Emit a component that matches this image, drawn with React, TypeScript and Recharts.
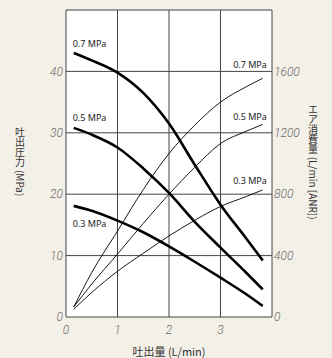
import React from 'react';
import { LineChart, Line, XAxis, YAxis, CartesianGrid, ReferenceDot } from 'recharts';

const flow = [0.15, 0.5, 1, 1.5, 2, 2.5, 3, 3.5, 3.82];
const press07 = [43, 41.8, 39.8, 36.5, 31.5, 24.8, 18.3, 12.8, 9.2];
const press05 = [30.8, 29.7, 27.6, 24.2, 20.2, 15.5, 11.3, 7.2, 4.5];
const press03 = [18.1, 17.3, 15.7, 13.8, 11.5, 9.0, 6.4, 3.7, 1.8];
const air07 = [65, 290, 560, 830, 1065, 1250, 1400, 1500, 1555];
const air05 = [65, 215, 410, 610, 800, 975, 1130, 1210, 1255];
const air03 = [50, 160, 298, 415, 528, 630, 720, 785, 828];

const leftTicks = [0, 10, 20, 30, 40, 50];
const rightTicks = [0, 400, 800, 1200, 1600, 2000];
const xTicks = [0, 1, 2, 3, 4];
const leftLabels = [
  { x: 0.13, y: 44.0, text: '0.7 MPa' },
  { x: 0.13, y: 31.9, text: '0.5 MPa' },
  { x: 0.13, y: 14.7, text: '0.3 MPa' },
];
const rightLabels = [
  { x: 3.9, y: 40.5, text: '0.7 MPa' },
  { x: 3.9, y: 32.1, text: '0.5 MPa' },
  { x: 3.9, y: 21.7, text: '0.3 MPa' },
];

const data = flow.map((q, i) => ({
  q,
  p07: press07[i],
  p05: press05[i],
  p03: press03[i],
  a07: air07[i],
  a05: air05[i],
  a03: air03[i],
}));

const tickStyle = { fontSize: 12, fill: '#6a6a6a', fontStyle: 'italic', fontFamily: 'Roboto', fontWeight: 300 };
const titleFont = '"Noto Sans CJK JP", "Noto Sans", sans-serif';

export default function App() {
  return (
    <div style={{ position: 'absolute', left: 0, top: 0, width: 332, height: 358, background: '#f3f0e8' }}>
      <LineChart width={332} height={358} data={data} margin={{ top: 10, right: 0, bottom: 0, left: 0 }}>
        <CartesianGrid yAxisId="left" fill="#fff" stroke="#444" strokeWidth={1} />
        <XAxis
          dataKey="q"
          type="number"
          domain={[0, 4]}
          ticks={xTicks}
          tickFormatter={(v) => (v === 4 ? '' : String(v))}
          axisLine={false}
          tickLine={false}
          tickSize={0}
          tickMargin={8}
          height={41}
          tick={tickStyle}
          label={{
            content: (p: any) => {
              const vb = p.viewBox;
              return (
                <text x={vb.x + vb.width / 2} y={356} textAnchor="middle" fontSize={11} fill="#333" fontFamily={titleFont}>
                  吐出量 (L/min)
                </text>
              );
            },
          }}
        />
        <YAxis
          yAxisId="left"
          domain={[0, 50]}
          ticks={leftTicks}
          tickFormatter={(v) => (v === 50 ? '' : String(v))}
          axisLine={false}
          tickLine={false}
          tickSize={0}
          tickMargin={3}
          width={66}
          tick={tickStyle}
          label={{
            content: () => (
              <text
                x={20}
                y={162}
                textAnchor="middle"
                fontSize={10}
                fill="#333"
                fontFamily={titleFont}
                style={{ writingMode: 'vertical-rl' as any }}
              >
                吐出圧力 (MPa)
              </text>
            ),
          }}
        />
        <YAxis
          yAxisId="right"
          orientation="right"
          domain={[0, 2000]}
          ticks={rightTicks}
          tickFormatter={(v) => (v === 2000 ? '' : String(v))}
          axisLine={false}
          tickLine={false}
          tickSize={0}
          tickMargin={2}
          width={60}
          tick={tickStyle}
          label={{
            content: () => (
              <text
                x={313}
                y={162}
                textAnchor="middle"
                fontSize={10}
                fill="#333"
                fontFamily={titleFont}
                style={{ writingMode: 'vertical-rl' as any }}
              >
                エア消費量 (L/min [ANR])
              </text>
            ),
          }}
        />
        <Line yAxisId="left" type="monotone" dataKey="p07" stroke="#000" strokeWidth={2.6} dot={false} isAnimationActive={false} />
        <Line yAxisId="left" type="monotone" dataKey="p05" stroke="#000" strokeWidth={2.6} dot={false} isAnimationActive={false} />
        <Line yAxisId="left" type="monotone" dataKey="p03" stroke="#000" strokeWidth={2.6} dot={false} isAnimationActive={false} />
        <Line yAxisId="right" type="monotone" dataKey="a07" stroke="#000" strokeWidth={0.9} dot={false} isAnimationActive={false} />
        <Line yAxisId="right" type="monotone" dataKey="a05" stroke="#000" strokeWidth={0.9} dot={false} isAnimationActive={false} />
        <Line yAxisId="right" type="monotone" dataKey="a03" stroke="#000" strokeWidth={0.9} dot={false} isAnimationActive={false} />
        {leftLabels.map((l) => (
          <ReferenceDot
            key={'l' + l.text}
            yAxisId="left"
            x={l.x}
            y={l.y}
            r={0}
            shape={(p: any) => (
              <text x={p.cx} y={p.cy} fontSize={9} fill="#222" fontFamily='"Noto Sans", sans-serif'>
                {l.text}
              </text>
            )}
          />
        ))}
        {rightLabels.map((l) => (
          <ReferenceDot
            key={'r' + l.text}
            yAxisId="left"
            x={l.x}
            y={l.y}
            r={0}
            shape={(p: any) => (
              <text x={p.cx} y={p.cy} textAnchor="end" fontSize={9} fill="#222" fontFamily='"Noto Sans", sans-serif'>
                {l.text}
              </text>
            )}
          />
        ))}
      </LineChart>
    </div>
  );
}
